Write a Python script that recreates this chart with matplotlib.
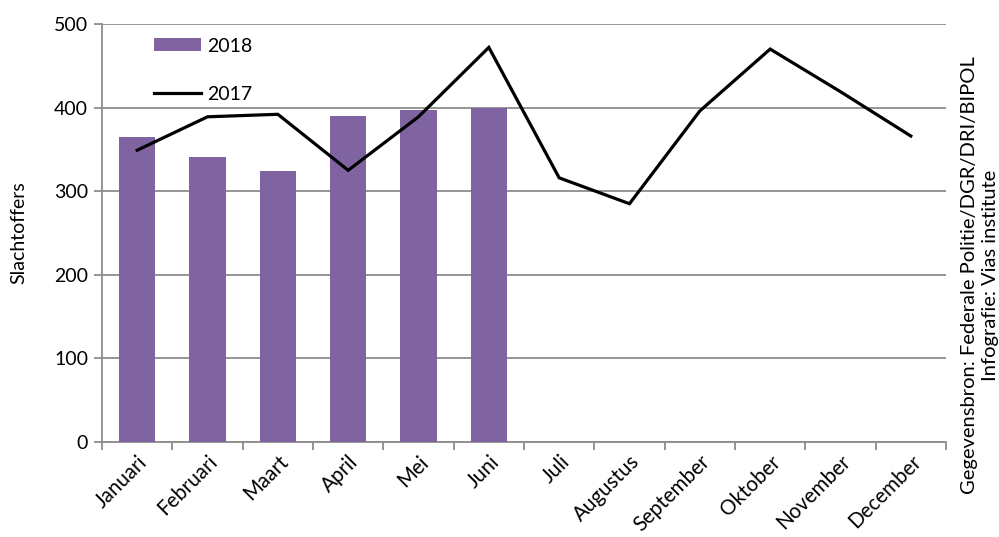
import matplotlib
matplotlib.use("Agg")
import matplotlib.pyplot as plt
import numpy as np

plt.rcParams['font.family'] = ['Lato', 'DejaVu Sans']

months = ["Januari", "Februari", "Maart", "April", "Mei", "Juni", "Juli",
          "Augustus", "September", "Oktober", "November", "December"]
vals_2018 = [365, 341, 324, 390, 397, 400]
vals_2017 = [349, 389, 392, 325, 389, 472, 316, 285, 396, 470, 419, 366]
yticks = [0, 100, 200, 300, 400, 500]

fig = plt.figure(figsize=(9.99, 5.37), dpi=100)
ax = fig.add_axes([102/999, 95/537, 844/999, 418/537])

x = np.arange(len(months))
purple = "#8064A2"
grid = "#8C8C8C"
fs = 14

bars = ax.bar(x[:len(vals_2018)], vals_2018, width=0.52, color=purple, label="2018", zorder=3)
line, = ax.plot(x, vals_2017, color="black", lw=2.3, label="2017", zorder=4,
                solid_joinstyle='miter')

ax.set_xlim(-0.5, 11.5)
ax.set_ylim(0, 500)
ax.set_yticks(yticks)
ax.set_yticklabels([str(v) for v in yticks], fontsize=fs)
ax.yaxis.grid(True, color=grid, lw=1.3, zorder=0)
ax.set_axisbelow(True)

ax.set_xticks(np.arange(-0.5, 12, 1), minor=False)
ax.set_xticklabels([])
ax.set_xticks(x, minor=True)
ax.set_xticklabels(months, minor=True, rotation=45, ha='right', va='top',
                   rotation_mode='anchor', fontsize=14.8)
ax.tick_params(axis='x', which='major', length=6, color=grid, width=1.3, direction='out')
ax.tick_params(axis='x', which='minor', length=0, pad=7)
ax.tick_params(axis='y', length=6, color=grid, width=1.3, pad=4)

for s in ['top', 'right']:
    ax.spines[s].set_visible(False)
for s in ['left', 'bottom']:
    ax.spines[s].set_color(grid)
    ax.spines[s].set_linewidth(1.3)

ax.set_ylabel("Slachtoffers", fontsize=fs, labelpad=19)

leg = ax.legend([bars, line], ["2018", "2017"], loc='upper left',
                bbox_to_anchor=(0.0616, 0.9675), frameon=False,
                fontsize=fs, handlelength=2.42, handleheight=0.62,
                labelspacing=1.6, handletextpad=0.3, borderaxespad=0,
                borderpad=0)

fig.text(980/999, 1 - 275/537,
         "Gegevensbron: Federale Politie/DGR/DRI/BIPOL\nInfografie: Vias institute",
         rotation=90, ha='center', va='center', multialignment='center',
         linespacing=1.25, fontsize=14.5)

fig.savefig("out.png", dpi=100)
